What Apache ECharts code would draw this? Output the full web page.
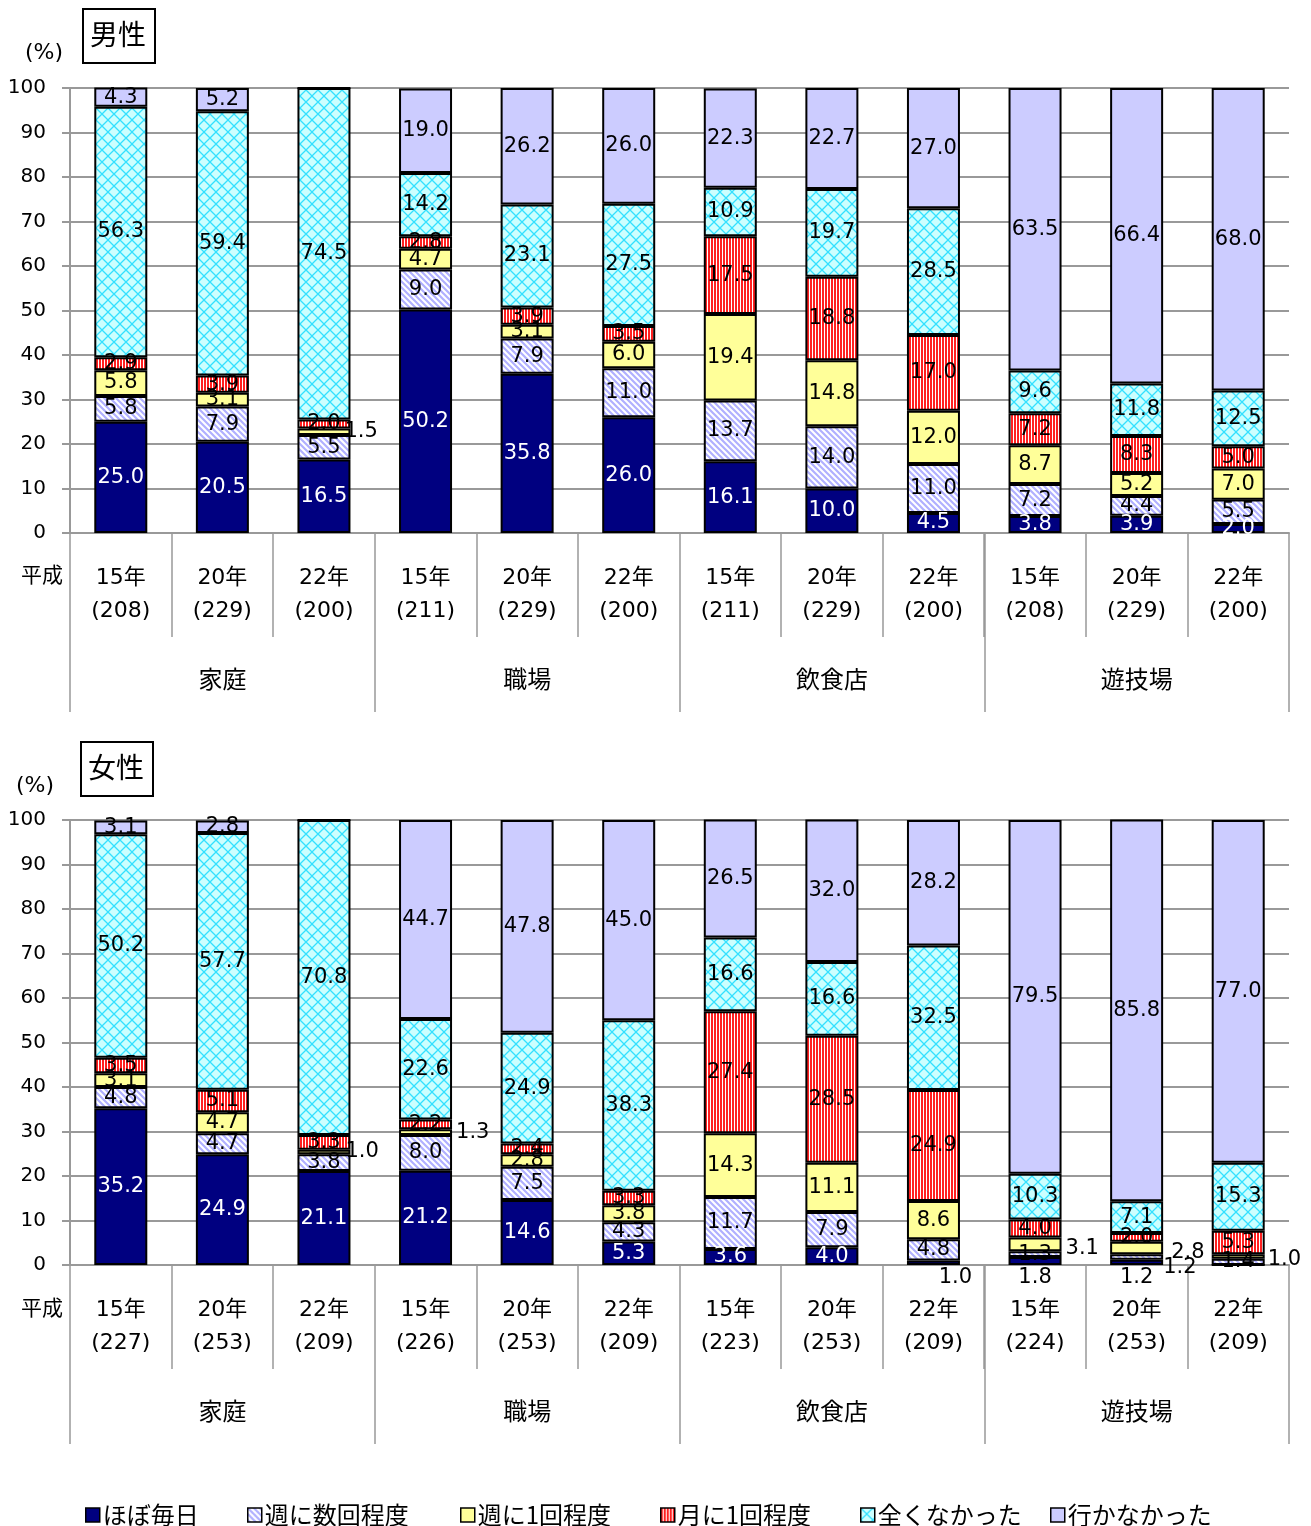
<!DOCTYPE html>
<html><head><meta charset="utf-8">
<script src="https://cdn.jsdelivr.net/npm/echarts@6/dist/echarts.min.js"></script>
<style>html,body{margin:0;padding:0;background:#fff}#c{width:1311px;height:1526px}</style>
</head><body><div id="c"></div>
<script>
// ---------- DATA ----------
const groups = ['家庭', '職場', '飲食店', '遊技場'];
const years = ['15年', '20年', '22年'];
const maleN = [208, 229, 200, 211, 229, 200, 211, 229, 200, 208, 229, 200];
const femaleN = [227, 253, 209, 226, 253, 209, 223, 253, 209, 224, 253, 209];
const seriesNames = ['ほぼ毎日', '週に数回程度', '週に1回程度', '月に1回程度', '全くなかった', '行かなかった'];
const yTicks = [0, 10, 20, 30, 40, 50, 60, 70, 80, 90, 100];

const maleDaily   = [25.0, 20.5, 16.5, 50.2, 35.8, 26.0, 16.1, 10.0, 4.5, 3.8, 3.9, 2.0];
const maleSeveral = [5.8, 7.9, 5.5, 9.0, 7.9, 11.0, 13.7, 14.0, 11.0, 7.2, 4.4, 5.5];
const maleWeekly  = [5.8, 3.1, 1.5, 4.7, 3.1, 6.0, 19.4, 14.8, 12.0, 8.7, 5.2, 7.0];
const maleMonthly = [2.9, 3.9, 2.0, 2.8, 3.9, 3.5, 17.5, 18.8, 17.0, 7.2, 8.3, 5.0];
const maleNever   = [56.3, 59.4, 74.5, 14.2, 23.1, 27.5, 10.9, 19.7, 28.5, 9.6, 11.8, 12.5];
const maleNotGo   = [4.3, 5.2, 0, 19.0, 26.2, 26.0, 22.3, 22.7, 27.0, 63.5, 66.4, 68.0];

const femaleDaily   = [35.2, 24.9, 21.1, 21.2, 14.6, 5.3, 3.6, 4.0, 1.0, 1.8, 1.2, 0];
const femaleSeveral = [4.8, 4.7, 3.8, 8.0, 7.5, 4.3, 11.7, 7.9, 4.8, 1.3, 1.2, 1.4];
const femaleWeekly  = [3.1, 4.7, 1.0, 1.3, 2.8, 3.8, 14.3, 11.1, 8.6, 3.1, 2.8, 1.0];
const femaleMonthly = [3.5, 5.1, 3.3, 2.2, 2.4, 3.3, 27.4, 28.5, 24.9, 4.0, 2.0, 5.3];
const femaleNever   = [50.2, 57.7, 70.8, 22.6, 24.9, 38.3, 16.6, 16.6, 32.5, 10.3, 7.1, 15.3];
const femaleNotGo   = [3.1, 2.8, 0, 44.7, 47.8, 45.0, 26.5, 32.0, 28.2, 79.5, 85.8, 77.0];

// ---------- STYLE ----------
const NUM_FONT = '"DejaVu Sans", "Noto Sans CJK JP", sans-serif';
const JP_FONT = '"Noto Sans CJK JP", "DejaVu Sans", sans-serif';
const GRAY = '#999';

function pattern(kind) {
  const c = document.createElement('canvas');
  let ctx;
  if (kind === 'diag') {
    c.width = c.height = 6; ctx = c.getContext('2d');
    ctx.fillStyle = '#fff'; ctx.fillRect(0, 0, 6, 6);
    ctx.strokeStyle = '#b0b0ff'; ctx.lineWidth = 2.2; ctx.beginPath();
    ctx.moveTo(-1, -1); ctx.lineTo(7, 7);
    ctx.moveTo(-1, 5); ctx.lineTo(1, 7);
    ctx.moveTo(5, -1); ctx.lineTo(7, 1);
    ctx.stroke();
  } else if (kind === 'vert') {
    c.width = 3; c.height = 3; ctx = c.getContext('2d');
    ctx.fillStyle = '#fff'; ctx.fillRect(0, 0, 3, 3);
    ctx.fillStyle = '#ff2020'; ctx.fillRect(0, 0, 2, 3);
  } else if (kind === 'cross') {
    c.width = c.height = 12; ctx = c.getContext('2d');
    ctx.fillStyle = '#ccffff'; ctx.fillRect(0, 0, 12, 12);
    ctx.strokeStyle = '#33e0ff'; ctx.lineWidth = 1.3; ctx.beginPath();
    ctx.moveTo(0, 0); ctx.lineTo(12, 12);
    ctx.moveTo(12, 0); ctx.lineTo(0, 12);
    ctx.stroke();
  }
  return { image: c, repeat: 'repeat' };
}
const fills = ['#000080', pattern('diag'), '#ffff99', pattern('vert'), pattern('cross'), '#ccccff'];

// label placement overrides for tiny segments: key = seriesIndex-dataIndex
const labelOverrides = [
  { '2-2': { position: 'right', distance: -6 } },
  {
    '2-2': { position: 'right', distance: -5 },
    '2-3': { position: 'right', distance: 4 },
    '0-8': { position: 'bottom', distance: 2, offset: [22, 0], color: '#000' },
    '0-9': { position: 'bottom', distance: 2, color: '#000' },
    '2-9': { position: 'right', distance: 4, offset: [0, 4] },
    '0-10': { position: 'bottom', distance: 2, color: '#000' },
    '1-10': { position: 'right', distance: 0, offset: [0, 11] },
    '2-10': { position: 'right', distance: 8, offset: [0, 4] },
    '2-11': { position: 'right', distance: 3, offset: [0, 3] }
  }
];

const maleData = [maleDaily, maleSeveral, maleWeekly, maleMonthly, maleNever, maleNotGo];
const femaleData = [femaleDaily, femaleSeveral, femaleWeekly, femaleMonthly, femaleNever, femaleNotGo];

function catLabels(ns) {
  const out = [];
  groups.forEach((g, gi) => years.forEach((y, yi) => out.push(y + '\n(' + ns[gi * 3 + yi] + ')')));
  return out;
}

const gridTops = [88, 820];
const grids = gridTops.map(t => ({ left: 70, width: 1219, top: t, height: 445, containLabel: false }));

const xAxes = [];
const yAxes = [];
[maleN, femaleN].forEach((ns, g) => {
  xAxes.push({
    type: 'category', gridIndex: g, data: catLabels(ns), position: 'bottom',
    axisLine: { show: true, lineStyle: { color: GRAY, width: 2 } },
    axisTick: { show: true, interval: 0, length: 104, lineStyle: { color: GRAY, width: 1.5 } },
    axisLabel: { interval: 0, margin: 29, fontSize: 22, lineHeight: 33, color: '#000', fontFamily: NUM_FONT }
  });
  xAxes.push({
    type: 'category', gridIndex: g, data: groups, position: 'bottom',
    axisLine: { show: false },
    axisTick: { show: true, interval: 0, length: 179, lineStyle: { color: GRAY, width: 1.5 } },
    axisLabel: { interval: 0, margin: 134, fontSize: 24, color: '#000', fontFamily: JP_FONT }
  });
  yAxes.push({
    type: 'value', gridIndex: g, min: yTicks[0], max: yTicks[yTicks.length - 1], interval: yTicks[1] - yTicks[0],
    axisLine: { show: true, lineStyle: { color: GRAY, width: 2 } },
    axisTick: { show: true, length: 8, lineStyle: { color: GRAY, width: 2 } },
    splitLine: { show: true, lineStyle: { color: GRAY, width: 2 } },
    axisLabel: { margin: 24, fontSize: 20, color: '#000', fontFamily: NUM_FONT }
  });
});

const series = [];
[maleData, femaleData].forEach((arrs, g) => {
  arrs.forEach((arr, si) => {
    series.push({
      name: seriesNames[si], type: 'bar', stack: 'st' + g,
      xAxisIndex: g * 2, yAxisIndex: g, barWidth: 53,
      itemStyle: { color: fills[si], borderColor: '#000', borderWidth: 2 },
      label: {
        show: true, position: 'inside', color: si === 0 ? '#fff' : '#000',
        fontSize: 21, fontFamily: NUM_FONT,
        formatter: p => (p.value ? Number(p.value).toFixed(1) : '')
      },
      emphasis: { disabled: true },
      data: arr.map((v, i) => {
        const o = labelOverrides[g][si + '-' + i];
        return o ? { value: v, label: o } : v;
      })
    });
  });
});

const legendLefts = [80, 242, 455, 655, 855, 1045];
const legends = seriesNames.map((n, i) => ({
  data: [n], left: legendLefts[i], top: 1498, icon: 'rect',
  itemWidth: 14, itemHeight: 14, itemGap: 6,
  itemStyle: { borderColor: '#000', borderWidth: 1.5 },
  textStyle: { fontSize: 24, color: '#000', fontFamily: JP_FONT, padding: [0, 0, 0, -2] },
  selectedMode: false
}));

const graphic = [];
[[82, 8, '男性'], [80, 741, '女性']].forEach(([x, y, t]) => {
  graphic.push({ type: 'rect', left: x, top: y, shape: { width: 72, height: 54 }, style: { fill: '#fff', stroke: '#000', lineWidth: 2 } });
  graphic.push({ type: 'text', x: x + 36, y: y + 26, style: { text: t, fontSize: 28, fontFamily: JP_FONT, fill: '#000', align: 'center', verticalAlign: 'middle' } });
});
[[44, 53], [35, 786]].forEach(([x, y]) => graphic.push({ type: 'text', x: x, y: y, style: { text: '(%)', fontSize: 22, fontFamily: NUM_FONT, fill: '#000', align: 'center', verticalAlign: 'middle' } }));
[[42, 574], [42, 1307]].forEach(([x, y]) => graphic.push({ type: 'text', x: x, y: y, style: { text: '平成', fontSize: 21, fontFamily: JP_FONT, fill: '#000', align: 'center', verticalAlign: 'middle' } }));

const chart = echarts.init(document.getElementById('c'), null, { renderer: 'canvas' });
chart.setOption({
  animation: false,
  backgroundColor: '#fff',
  grid: grids,
  xAxis: xAxes,
  yAxis: yAxes,
  legend: legends,
  graphic: graphic,
  series: series
});
</script>
</body></html>
